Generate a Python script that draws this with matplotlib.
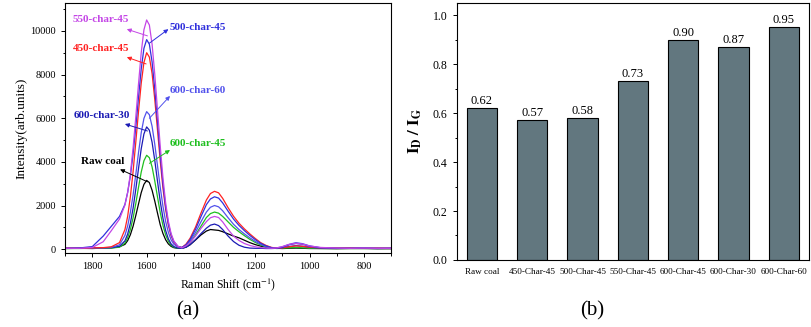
import matplotlib
matplotlib.use('Agg')
import matplotlib.pyplot as plt
from matplotlib.ticker import MultipleLocator

plt.rcParams['font.family'] = ['Liberation Serif', 'DejaVu Serif']
plt.rcParams['mathtext.fontset'] = 'stix'

# ---- (a) Raman spectra ----
shift = [1900, 1850, 1800, 1760, 1730, 1700, 1680, 1670, 1660, 1650, 1640, 1630, 1620, 1610,
         1600, 1590, 1580, 1570, 1560, 1550, 1540, 1530, 1520, 1510, 1500, 1485, 1470, 1455,
         1440, 1420, 1400, 1380, 1365, 1350, 1335, 1320, 1300, 1280, 1260, 1240, 1220, 1200,
         1180, 1160, 1140, 1120, 1100, 1075, 1050, 1025, 1000, 960, 900, 850, 800, 750, 700]

raw_coal = [30, 40, 30, 50, 60, 110, 220, 390, 660, 1050, 1540, 2070, 2590, 2970,
            3150, 3050, 2700, 2200, 1650, 1120, 720, 430, 240, 130, 70, 40, 40, 90,
            200, 420, 650, 830, 900, 880, 860, 800, 700, 600, 520, 410, 300, 210,
            140, 90, 60, 40, 30, 40, 50, 40, 30, 30, 20, 30, 30, 20, 20]
char_450_45 = [50, 40, 60, 70, 110, 300, 900, 1500, 2400, 3550, 4900, 6300, 7600, 8550,
               9000, 8800, 8050, 6850, 5450, 4050, 2800, 1820, 1100, 620, 330, 120, 80, 230,
               500, 1010, 1650, 2250, 2550, 2650, 2580, 2330, 1900, 1510, 1190, 930, 700, 490,
               300, 170, 80, 50, 60, 110, 150, 130, 90, 60, 50, 50, 40, 50, 40]
char_500_45 = [40, 50, 120, 600, 1050, 1500, 2050, 2600, 3350, 4350, 5600, 6950, 8250, 9200,
               9600, 9390, 8580, 7320, 5830, 4320, 3000, 1940, 1170, 660, 350, 130, 80, 200,
               440, 910, 1490, 2040, 2300, 2400, 2340, 2120, 1740, 1380, 1090, 850, 630, 440,
               270, 150, 70, 40, 80, 200, 260, 220, 130, 60, 40, 40, 50, 40, 40]
char_550_45 = [40, 40, 80, 340, 850, 1380, 2020, 2590, 3450, 4630, 6050, 7570, 9000, 10050,
               10500, 10270, 9390, 8000, 6370, 4730, 3280, 2120, 1280, 720, 380, 130, 60, 150,
               300, 600, 950, 1260, 1440, 1500, 1450, 1250, 900, 600, 400, 260, 170, 110,
               70, 50, 40, 60, 120, 220, 270, 230, 150, 80, 50, 40, 50, 40, 40]
char_600_45 = [30, 30, 40, 40, 50, 90, 280, 520, 900, 1430, 2090, 2830, 3530, 4050,
               4300, 4190, 3770, 3120, 2390, 1680, 1090, 650, 360, 180, 90, 40, 50, 140,
               300, 650, 1050, 1450, 1630, 1700, 1650, 1500, 1250, 1000, 800, 620, 450, 310,
               190, 100, 50, 30, 40, 60, 80, 60, 40, 30, 30, 30, 30, 30, 30]
char_600_30 = [40, 40, 50, 60, 70, 130, 380, 690, 1180, 1870, 2740, 3690, 4600, 5280,
               5600, 5450, 4900, 4060, 3110, 2190, 1420, 850, 470, 240, 120, 50, 40, 90,
               210, 440, 710, 960, 1100, 1150, 1080, 900, 600, 350, 180, 90, 50, 40,
               40, 30, 30, 40, 60, 120, 160, 130, 80, 50, 40, 40, 40, 30, 40]
char_600_60 = [40, 40, 50, 60, 80, 200, 630, 1060, 1680, 2480, 3420, 4420, 5330, 5990,
               6300, 6160, 5630, 4800, 3820, 2840, 1970, 1270, 770, 430, 230, 90, 60, 170,
               370, 770, 1250, 1700, 1920, 2000, 1940, 1760, 1440, 1140, 900, 700, 520, 360,
               220, 120, 60, 60, 110, 220, 300, 250, 150, 70, 40, 50, 40, 40, 40]

# ---- (b) ID/IG ratio ----
samples = ['Raw coal', '450-Char-45', '500-Char-45', '550-Char-45',
           '600-Char-45', '600-Char-30', '600-Char-60']
ratio = [0.62, 0.57, 0.58, 0.73, 0.90, 0.87, 0.95]

fig = plt.figure(figsize=(8.12, 3.27), dpi=100)

# left panel
ax1 = fig.add_axes([0.0803, 0.226, 0.4012, 0.765])
spectra = [
    (raw_coal, '#000000', 'Raw coal', (1843, 4037), (1698, 3656), (1597, 3087)),
    (char_600_45, '#1fbf1f', '600-char-45', (1514, 4849), (1514, 4541), (1590, 3931)),
    (char_600_30, '#1a1ab4', '600-char-30', (1870, 6101), (1680, 5734), (1597, 5413)),
    (char_600_60, '#5252ec', '600-char-60', (1516, 7261), (1514, 7018), (1590, 5995)),
    (char_450_45, '#ff2222', '450-char-45', (1870, 9206), (1673, 8794), (1602, 8486)),
    (char_500_45, '#3030dc', '500-char-45', (1516, 10170), (1520, 10078), (1590, 9436)),
    (char_550_45, '#c446e6', '550-char-45', (1872, 10505), (1673, 10078), (1597, 9771)),
]
for ys, c, name, txt, head, tail in spectra:
    ax1.plot(shift, ys, color=c, lw=0.9)
    ax1.text(txt[0], txt[1], name, color=c, fontsize=8, fontweight='bold',
             ha='left', va='center')
    ax1.annotate('', xy=head, xytext=tail,
                 arrowprops=dict(arrowstyle='-|>', color=c, lw=0.7,
                                 mutation_scale=6, shrinkA=0, shrinkB=0))

ax1.set_xlim(1900, 700)
ax1.set_ylim(-180, 11280)
ax1.xaxis.set_major_locator(MultipleLocator(200))
ax1.xaxis.set_minor_locator(MultipleLocator(100))
ax1.yaxis.set_major_locator(MultipleLocator(2000))
ax1.yaxis.set_minor_locator(MultipleLocator(1000))
ax1.tick_params(which='both', direction='out', labelsize=7.5, width=0.7)
ax1.tick_params(which='major', length=3)
ax1.tick_params(which='minor', length=1.8)
ax1.set_ylabel('Intensity(arb.units)', fontsize=9.5, labelpad=2)
ax1.set_xlabel('Raman Shift (cm$^{-1}$)', fontsize=8.5, labelpad=4)
for s in ax1.spines.values():
    s.set_linewidth(0.8)

# right panel
ax2 = fig.add_axes([0.5624, 0.205, 0.4339, 0.786])
bars = ax2.bar(range(len(samples)), ratio, width=0.6, color='#62777f',
               edgecolor='black', linewidth=0.8)
for b, v in zip(bars, ratio):
    ax2.text(b.get_x() + b.get_width() / 2, v + 0.004, f'{v:.2f}',
             ha='center', va='bottom', fontsize=9)
ax2.set_xlim(-0.5, 6.5)
ax2.set_ylim(0, 1.05)
ax2.set_xticks(range(len(samples)))
ax2.set_xticklabels(samples, fontsize=6.6)
ax2.yaxis.set_major_locator(MultipleLocator(0.2))
ax2.yaxis.set_minor_locator(MultipleLocator(0.1))
ax2.yaxis.set_major_formatter(plt.FuncFormatter(lambda v, p: f'{v:.1f}'))
ax2.tick_params(axis='y', which='both', direction='out', labelsize=8.5, width=0.7)
ax2.tick_params(axis='y', which='major', length=3)
ax2.tick_params(axis='y', which='minor', length=1.8)
ax2.tick_params(axis='x', length=0, pad=6)
ax2.set_ylabel(r'$\mathbf{I_D\ /\ I_G}$', fontsize=12, labelpad=6)
for s in ax2.spines.values():
    s.set_linewidth(0.8)

fig.text(188 / 812, 1 - 311 / 327, '(a)', fontsize=15, ha='center', va='center')
fig.text(592 / 812, 1 - 311 / 327, '(b)', fontsize=15, ha='center', va='center')

plt.savefig('out.png', dpi=100)
plt.close()
